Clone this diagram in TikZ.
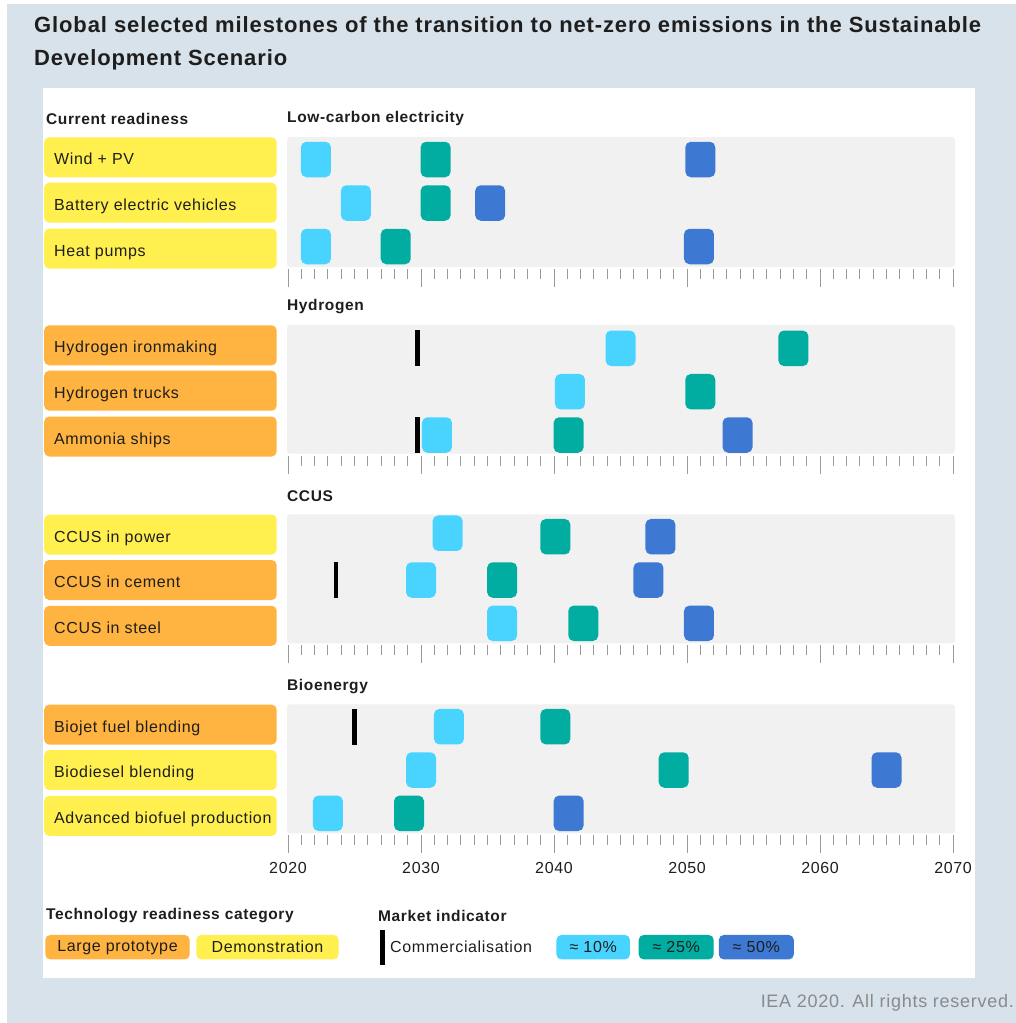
\documentclass[tikz,border=0pt]{standalone}
\usepackage{fontspec}
\setmainfont{Liberation Sans}[LetterSpace=4]
\newfontfamily\titlefont{Liberation Sans}[LetterSpace=4]
\definecolor{bgc}{HTML}{D7E2EB}
\definecolor{ink}{HTML}{1E1E1E}
\definecolor{band}{HTML}{F1F1F1}
\definecolor{yel}{HTML}{FFF04F}
\definecolor{org}{HTML}{FFB340}
\definecolor{cten}{HTML}{48D4FF}
\definecolor{ctwf}{HTML}{00ADA0}
\definecolor{cfif}{HTML}{3D79D3}
\definecolor{tickc}{HTML}{9A9A9A}
\definecolor{foot}{HTML}{8A8A8A}
\newcommand\mkr[4]{\node[mk, fill=#4] (#1) at ({288+13.3*(#2-2020)}, #3) {};}
\newcommand\cmb[3]{\node[comm] (#1) at ({288+13.3*(#2-2020)}, #3) {};}
\newcommand\tickrow[1]{\foreach \k in {0,...,50}{\pgfmathsetmacro\tl{mod(\k,10)==0 ? 18 : 10}\draw[tickline] ({288+13.3*\k}, #1) -- ++(0,\tl);}}
\newcommand\lt[1]{\makebox[212.5pt][l]{#1}}
\begin{document}
\begin{tikzpicture}[x=1pt,y=-1pt,
  txt/.style={font=\fontsize{16}{19}\selectfont, text=ink, inner sep=0},
  hdr/.style={font=\bfseries\fontsize{15.5}{18}\selectfont, text=ink, anchor=west, inner sep=0},
  ttl/.style={font=\titlefont\bfseries\fontsize{22}{26}\selectfont, text=ink, anchor=base west, inner sep=0},
  lab/.style={rectangle, rounded corners=5pt, inner xsep=10pt, inner ysep=0pt, minimum height=40pt, text height=15.2pt, text depth=0pt, anchor=west, font=\fontsize{16}{19}\selectfont, text=ink},
  mk/.style={rectangle, rounded corners=5.5pt, minimum width=30pt, minimum height=35.5pt, inner sep=0},
  comm/.style={rectangle, fill=black, minimum width=4.5pt, minimum height=36pt, inner sep=0},
  bandbox/.style={fill=band, rounded corners=3pt},
  tickline/.style={draw=tickc, line width=1pt},
  legbox/.style={rectangle, rounded corners=5pt, minimum height=24.5pt, inner sep=0, font=\fontsize{16}{19}\selectfont, text=ink},
]
\useasboundingbox (0,0) rectangle (1016,1023);
\fill[white] (0,0) rectangle (1016,1023);
\fill[bgc] (7,4) rectangle (1016,1023);
\fill[white] (43,88) rectangle (975,978);

% title
\node[ttl] (title1) at (34,32.3) {Global selected milestones of the transition to net-zero emissions in the Sustainable};
\node[ttl] (title2) at (34,65.7) {Development Scenario};

% headers
\node[hdr] (hcr) at (46,118.5) {Current readiness};
\node[hdr] (h1) at (287,118.5) {Low-carbon electricity};
\node[hdr] (h2) at (287,306.5) {Hydrogen};
\node[hdr] (h3) at (287,496.5) {CCUS};
\node[hdr] (h4) at (287,686.5) {Bioenergy};

% bands
\fill[bandbox] (287,137) rectangle (955,267);
\fill[bandbox] (287,325) rectangle (955,453.5);
\fill[bandbox] (287,514.3) rectangle (955,643.3);
\fill[bandbox] (287,704.3) rectangle (955,833.3);

% ticks
\tickrow{269}
\tickrow{455.5}
\tickrow{645.3}
\tickrow{835.3}

% year labels
\foreach \yy/\k in {2020/0,2030/1,2040/2,2050/3,2060/4,2070/5}{
  \node[txt] (yr\yy) at ({288+133*\k}, 868) {\yy};
}

% labels section 1
\node[lab, fill=yel] (l11) at (44,157.3) {\lt{Wind + PV}};
\node[lab, fill=yel] (l12) at (44,202.7) {\lt{Battery electric vehicles}};
\node[lab, fill=yel] (l13) at (44,248.5) {\lt{Heat pumps}};
% section 2
\node[lab, fill=org] (l21) at (44,345.3) {\lt{Hydrogen ironmaking}};
\node[lab, fill=org] (l22) at (44,390.7) {\lt{Hydrogen trucks}};
\node[lab, fill=org] (l23) at (44,436.5) {\lt{Ammonia ships}};
% section 3
\node[lab, fill=yel] (l31) at (44,534.6) {\lt{CCUS in power}};
\node[lab, fill=org] (l32) at (44,580) {\lt{CCUS in cement}};
\node[lab, fill=org] (l33) at (44,625.8) {\lt{CCUS in steel}};
% section 4
\node[lab, fill=org] (l41) at (44,724.6) {\lt{Biojet fuel blending}};
\node[lab, fill=yel] (l42) at (44,770) {\lt{Biodiesel blending}};
\node[lab, fill=yel] (l43) at (44,815.8) {\lt{Advanced biofuel production}};

% markers section 1
\mkr{m11a}{2022.1}{159.5}{cten}
\mkr{m11b}{2031.1}{159.5}{ctwf}
\mkr{m11c}{2051.0}{159.5}{cfif}
\mkr{m12a}{2025.1}{203}{cten}
\mkr{m12b}{2031.1}{203}{ctwf}
\mkr{m12c}{2035.2}{203}{cfif}
\mkr{m13a}{2022.1}{246.5}{cten}
\mkr{m13b}{2028.1}{246.5}{ctwf}
\mkr{m13c}{2050.9}{246.5}{cfif}
% section 2
\cmb{c21}{2029.75}{348.3}
\mkr{m21a}{2045.0}{348.3}{cten}
\mkr{m21b}{2058.0}{348.3}{ctwf}
\mkr{m22a}{2041.2}{391.7}{cten}
\mkr{m22b}{2051.0}{391.7}{ctwf}
\cmb{c23}{2029.75}{435}
\mkr{m23a}{2031.2}{435}{cten}
\mkr{m23b}{2041.1}{435}{ctwf}
\mkr{m23c}{2053.8}{435}{cfif}
% section 3
\mkr{m31a}{2032.0}{533.2}{cten}
\mkr{m31b}{2040.1}{536.7}{ctwf}
\mkr{m31c}{2048.0}{536.7}{cfif}
\cmb{c32}{2023.6}{580}
\mkr{m32a}{2030.0}{580}{cten}
\mkr{m32b}{2036.1}{580}{ctwf}
\mkr{m32c}{2047.1}{580}{cfif}
\mkr{m33a}{2036.1}{623.3}{cten}
\mkr{m33b}{2042.2}{623.3}{ctwf}
\mkr{m33c}{2050.9}{623.3}{cfif}
% section 4
\cmb{c41}{2025.0}{726.7}
\mkr{m41a}{2032.1}{726.7}{cten}
\mkr{m41b}{2040.1}{726.7}{ctwf}
\mkr{m42a}{2030.0}{770}{cten}
\mkr{m42b}{2049.0}{770}{ctwf}
\mkr{m42c}{2065.0}{770}{cfif}
\mkr{m43a}{2023.0}{813.3}{cten}
\mkr{m43b}{2029.1}{813.3}{ctwf}
\mkr{m43c}{2041.1}{813.3}{cfif}

% legend
\node[hdr] (lgh1) at (46,916) {Technology readiness category};
\node[hdr] (lgh2) at (378,916) {Market indicator};
\node[legbox, fill=org, minimum width=144.4pt] (lg1) at (117.5,947.2) {Large prototype};
\node[legbox, fill=yel, minimum width=142.4pt] (lg2) at (267.5,947.2) {Demonstration};
\node[comm, minimum height=35pt] (lgc) at (382.3,947.5) {};
\node[txt, anchor=west] (lgct) at (390,947.2) {Commercialisation};
\node[legbox, fill=cten, minimum width=73.5pt] (lg10) at (593.2,947.2) {≈ 10\%};
\node[legbox, fill=ctwf, minimum width=75pt] (lg25) at (676.2,947.2) {≈ 25\%};
\node[legbox, fill=cfif, minimum width=75pt] (lg50) at (756.3,947.2) {≈ 50\%};

% footer
\node[anchor=east, inner sep=0, text=foot, font=\fontsize{18}{21}\selectfont] (ft) at (1014,1003) {IEA 2020. All rights reserved.};
\end{tikzpicture}
\end{document}
